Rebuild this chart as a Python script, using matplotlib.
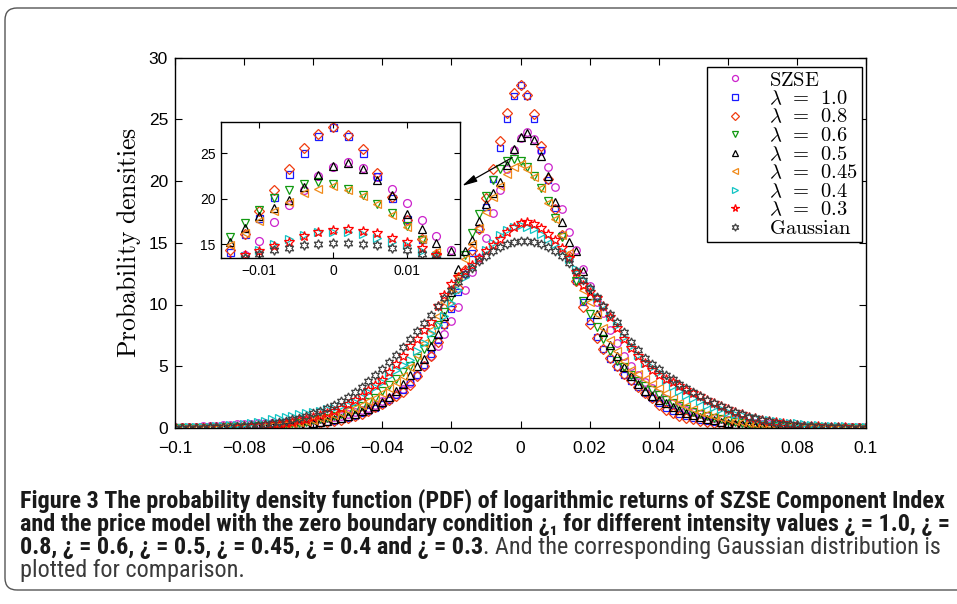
import matplotlib
matplotlib.use('Agg')
import matplotlib.pyplot as plt
from matplotlib import font_manager as fm
from matplotlib.patches import FancyBboxPatch
from matplotlib.transforms import IdentityTransform

plt.rcParams['mathtext.fontset'] = 'cm'
plt.rcParams['axes.unicode_minus'] = True

# ---------------- data (bin centres in per-mille of log-return) ----------------
returns_permille = [-100, -98, -96, -94, -92, -90, -88, -86, -84, -82,
                    -80, -78, -76, -74, -72, -70, -68, -66, -64, -62,
                    -60, -58, -56, -54, -52, -50, -48, -46, -44, -42,
                    -40, -38, -36, -34, -32, -30, -28, -26, -24, -22,
                    -20, -18, -16, -14, -12, -10, -8, -6, -4, -2,
                    0,
                    2, 4, 6, 8, 10, 12, 14, 16, 18, 20,
                    22, 24, 26, 28, 30, 32, 34, 36, 38, 40,
                    42, 44, 46, 48, 50, 52, 54, 56, 58, 60,
                    62, 64, 66, 68, 70, 72, 74, 76, 78, 80,
                    82, 84, 86, 88, 90, 92, 94, 96, 98, 100]

szse = [0.07, 0.08, 0.1, 0.12, 0.14, 0.17, 0.2, 0.24, 0.27, 0.3,
        0.34, 0.36, 0.38, 0.4, 0.42, 0.44, 0.47, 0.5, 0.55, 0.6,
        0.65, 0.72, 0.8, 0.9, 1.0, 1.12, 1.28, 1.45, 1.65, 1.9,
        2.15, 2.45, 2.75, 3.15, 3.65, 4.3, 5.0, 5.8, 6.6, 7.6,
        8.7, 9.8, 11.2, 12.6, 13.8, 15.4, 17.4, 19.3, 21.0, 22.5,
        23.5,
        24.0, 23.4, 22.4, 21.1, 19.5, 17.7, 15.9, 14.4, 12.9, 11.5,
        10.2, 9.3, 7.9, 6.9, 5.8, 5.0, 4.3, 3.7, 3.2, 2.75,
        2.35, 2.0, 1.72, 1.48, 1.28, 1.1, 0.95, 0.82, 0.72, 0.63,
        0.55, 0.48, 0.42, 0.37, 0.33, 0.29, 0.26, 0.23, 0.2, 0.18,
        0.16, 0.14, 0.12, 0.11, 0.1, 0.09, 0.08, 0.07, 0.06, 0.05]

lam_10 = [0.005, 0.005, 0.005, 0.01, 0.01, 0.01, 0.015, 0.02, 0.02, 0.025,
          0.035, 0.045, 0.055, 0.07, 0.09, 0.11, 0.14, 0.18, 0.22, 0.27,
          0.33, 0.4, 0.48, 0.58, 0.7, 0.85, 1.0, 1.2, 1.4, 1.65,
          1.95, 2.25, 2.65, 3.1, 3.7, 4.3, 5.1, 6.0, 7.1, 8.3,
          9.6, 11.0, 12.5, 14.2, 16.1, 17.9, 20.2, 22.7, 25.0, 26.9,
          27.8,
          26.9, 25.0, 22.5, 20.1, 17.8, 15.6, 13.7, 11.9, 10.2, 8.7,
          7.4, 6.4, 5.6, 4.9, 4.3, 3.8, 3.3, 2.8, 2.4, 2.0,
          1.65, 1.35, 1.1, 0.95, 0.8, 0.65, 0.55, 0.45, 0.37, 0.3,
          0.24, 0.19, 0.15, 0.12, 0.1, 0.08, 0.06, 0.05, 0.04, 0.03,
          0.025, 0.02, 0.015, 0.01, 0.01, 0.01, 0.005, 0.005, 0.005, 0.005]

lam_08 = [0.005, 0.005, 0.005, 0.005, 0.01, 0.01, 0.01, 0.015, 0.02, 0.02,
          0.03, 0.04, 0.05, 0.06, 0.08, 0.1, 0.13, 0.16, 0.2, 0.25,
          0.3, 0.37, 0.45, 0.55, 0.65, 0.8, 0.95, 1.15, 1.35, 1.7,
          1.95, 2.25, 2.6, 2.95, 3.5, 4.2, 5.0, 5.8, 7.0, 8.4,
          9.9, 11.3, 12.8, 14.4, 16.1, 18.6, 21.0, 23.2, 25.5, 27.1,
          27.8,
          27.0, 25.4, 22.8, 20.2, 17.7, 15.6, 13.9, 11.9, 9.8, 8.4,
          7.3, 6.4, 5.7, 5.0, 4.4, 3.85, 3.35, 2.85, 2.4, 1.9,
          1.45, 1.2, 1.0, 0.85, 0.7, 0.6, 0.5, 0.42, 0.35, 0.28,
          0.22, 0.18, 0.14, 0.11, 0.09, 0.07, 0.055, 0.045, 0.035, 0.03,
          0.02, 0.02, 0.015, 0.01, 0.01, 0.01, 0.005, 0.005, 0.005, 0.005]

lam_06 = [0.01, 0.01, 0.015, 0.02, 0.025, 0.03, 0.04, 0.05, 0.06, 0.07,
          0.09, 0.11, 0.14, 0.17, 0.21, 0.26, 0.31, 0.37, 0.44, 0.52,
          0.62, 0.72, 0.85, 1.0, 1.15, 1.35, 1.55, 1.8, 2.1, 2.4,
          3.0, 3.5, 4.0, 4.5, 5.0, 5.7, 6.4, 7.1, 8.3, 9.4,
          10.6, 12.1, 14.0, 15.8, 17.3, 18.8, 20.1, 21.0, 21.6, 21.8,
          21.6,
          21.1, 20.4, 19.4, 18.4, 17.0, 15.5, 13.7, 11.9, 10.3, 9.2,
          8.2, 7.2, 6.2, 5.4, 4.9, 4.3, 3.8, 3.4, 3.1, 2.7,
          2.3, 2.0, 1.75, 1.5, 1.3, 1.1, 0.95, 0.82, 0.7, 0.6,
          0.5, 0.42, 0.35, 0.3, 0.25, 0.2, 0.16, 0.13, 0.11, 0.09,
          0.07, 0.06, 0.05, 0.04, 0.03, 0.025, 0.02, 0.015, 0.01, 0.01]

lam_05 = [0.005, 0.005, 0.01, 0.01, 0.01, 0.015, 0.02, 0.025, 0.03, 0.04,
          0.05, 0.06, 0.08, 0.1, 0.13, 0.16, 0.2, 0.24, 0.29, 0.35,
          0.42, 0.5, 0.6, 0.72, 0.85, 1.0, 1.15, 1.35, 1.55, 1.8,
          2.1, 2.5, 3.0, 3.6, 4.3, 5.0, 5.6, 6.6, 7.6, 9.1,
          11.0, 12.9, 14.3, 15.2, 16.8, 18.1, 19.0, 19.9, 21.3, 22.6,
          23.6,
          23.9, 23.3, 22.0, 20.4, 18.3, 16.7, 15.1, 14.3, 12.7, 10.8,
          9.2, 7.8, 6.7, 5.8, 4.9, 4.2, 3.6, 3.0, 2.6, 2.3,
          2.0, 1.7, 1.45, 1.25, 1.05, 0.9, 0.75, 0.62, 0.52, 0.43,
          0.36, 0.3, 0.25, 0.2, 0.16, 0.13, 0.1, 0.08, 0.06, 0.05,
          0.04, 0.03, 0.025, 0.02, 0.015, 0.01, 0.01, 0.01, 0.005, 0.005]

lam_045 = [0.01, 0.01, 0.015, 0.02, 0.025, 0.03, 0.04, 0.05, 0.065, 0.08,
           0.1, 0.12, 0.15, 0.19, 0.23, 0.28, 0.34, 0.41, 0.49, 0.58,
           0.68, 0.8, 0.93, 1.08, 1.25, 1.45, 1.65, 1.9, 2.15, 2.45,
           2.8, 3.2, 3.7, 4.2, 4.9, 5.9, 6.9, 7.9, 9.1, 10.2,
           11.3, 12.4, 13.7, 14.9, 16.2, 17.5, 18.7, 19.6, 20.6, 21.1,
           21.4,
           21.0, 20.3, 19.4, 18.2, 16.9, 15.6, 14.2, 12.6, 11.2, 10.2,
           9.2, 8.1, 7.1, 6.2, 5.4, 4.7, 4.35, 4.0, 3.6, 3.2,
           2.8, 2.4, 2.05, 1.75, 1.5, 1.3, 1.1, 0.95, 0.82, 0.7,
           0.6, 0.5, 0.42, 0.35, 0.29, 0.24, 0.2, 0.16, 0.13, 0.11,
           0.09, 0.07, 0.06, 0.05, 0.04, 0.03, 0.025, 0.02, 0.015, 0.01]

lam_04 = [0.03, 0.04, 0.05, 0.07, 0.09, 0.11, 0.14, 0.18, 0.22, 0.28,
          0.35, 0.42, 0.5, 0.6, 0.7, 0.8, 0.9, 1.0, 1.12, 1.22,
          1.33, 1.4, 1.5, 1.6, 1.75, 1.9, 2.1, 2.5, 2.9, 3.3,
          3.7, 4.2, 4.7, 5.1, 5.5, 6.2, 6.9, 7.7, 8.3, 9.1,
          10.1, 11.2, 12.2, 13.0, 13.7, 14.4, 15.0, 15.6, 16.0, 16.3,
          16.4,
          16.3, 16.1, 15.7, 15.3, 14.9, 14.3, 13.7, 12.9, 12.0, 11.3,
          10.6, 10.0, 9.1, 8.3, 7.4, 6.6, 5.9, 5.3, 4.9, 4.5,
          3.9, 3.4, 3.0, 2.7, 2.4, 2.15, 1.9, 1.7, 1.5, 1.32,
          1.16, 1.02, 0.9, 0.8, 0.7, 0.62, 0.55, 0.48, 0.42, 0.37,
          0.32, 0.28, 0.24, 0.2, 0.17, 0.15, 0.13, 0.11, 0.1, 0.09]

lam_03 = [0.015, 0.02, 0.025, 0.03, 0.04, 0.05, 0.06, 0.075, 0.09, 0.11,
          0.14, 0.17, 0.2, 0.25, 0.3, 0.36, 0.43, 0.52, 0.62, 0.73,
          0.87, 1.02, 1.2, 1.4, 1.65, 1.95, 2.3, 2.6, 3.05, 3.5,
          3.9, 4.5, 5.2, 5.8, 6.6, 7.2, 7.9, 8.6, 9.9, 10.8,
          11.7, 12.2, 12.7, 13.2, 13.8, 14.3, 14.8, 15.3, 15.9, 16.3,
          16.6,
          16.7, 16.5, 16.2, 15.7, 15.2, 14.6, 13.8, 12.6, 11.6, 11.0,
          10.5, 9.9, 9.0, 8.1, 7.2, 6.5, 5.8, 5.3, 4.7, 4.3,
          4.0, 3.7, 3.4, 3.1, 2.85, 2.6, 2.3, 2.0, 1.75, 1.5,
          1.28, 1.1, 0.92, 0.78, 0.65, 0.54, 0.45, 0.37, 0.3, 0.25,
          0.2, 0.16, 0.13, 0.1, 0.08, 0.065, 0.05, 0.04, 0.03, 0.025]

gaussian = [0.014, 0.018, 0.024, 0.031, 0.04, 0.052, 0.066, 0.084, 0.107, 0.134,
            0.168, 0.209, 0.259, 0.32, 0.391, 0.477, 0.578, 0.698, 0.836, 0.996,
            1.18, 1.39, 1.63, 1.9, 2.2, 2.54, 2.92, 3.33, 3.78, 4.26,
            4.78, 5.34, 5.92, 6.54, 7.18, 7.84, 8.51, 9.19, 9.86, 10.53,
            11.19, 11.82, 12.43, 12.99, 13.49, 13.94, 14.33, 14.65, 14.89, 15.06,
            15.14,
            15.14, 15.06, 14.89, 14.65, 14.33, 13.94, 13.4, 12.7, 12.0, 11.3,
            10.6, 9.9, 9.2, 8.6, 7.8, 7.0, 6.3, 5.7, 5.2, 4.75,
            4.3, 3.95, 3.6, 3.2, 2.9, 2.6, 2.3, 2.0, 1.75, 1.5,
            1.3, 1.1, 0.93, 0.78, 0.65, 0.54, 0.44, 0.36, 0.29, 0.23,
            0.18, 0.14, 0.11, 0.09, 0.07, 0.05, 0.04, 0.03, 0.025, 0.02]

series_labels = [r'$\mathrm{SZSE}$', r'$\lambda\;\,=\;\,1.0$', r'$\lambda\;\,=\;\,0.8$',
                 r'$\lambda\;\,=\;\,0.6$', r'$\lambda\;\,=\;\,0.5$', r'$\lambda\;\,=\;\,0.45$',
                 r'$\lambda\;\,=\;\,0.4$', r'$\lambda\;\,=\;\,0.3$', r'$\mathrm{Gaussian}$']
series_values = [szse, lam_10, lam_08, lam_06, lam_05, lam_045, lam_04, lam_03, gaussian]

main_xticks = [-0.1, -0.08, -0.06, -0.04, -0.02, 0, 0.02, 0.04, 0.06, 0.08, 0.1]
main_xticklabels = ['\u22120.1', '\u22120.08', '\u22120.06', '\u22120.04', '\u22120.02',
                    '0', '0.02', '0.04', '0.06', '0.08', '0.1']
main_yticks = [0, 5, 10, 15, 20, 25, 30]
inset_xticks = [-0.01, 0, 0.01]
inset_xticklabels = ['\u22120.01', '0', '0.01']
inset_yticks = [15, 20, 25]

# ---------------- styles ----------------
styles = [
    dict(marker='o', color='#cc22cc', ms=5.4),
    dict(marker='s', color='#1a1aff', ms=4.8),
    dict(marker='D', color='#f03c10', ms=4.6),
    dict(marker='v', color='#119911', ms=5.8),
    dict(marker='^', color='#000000', ms=5.8),
    dict(marker='<', color='#f08a1a', ms=5.8),
    dict(marker='>', color='#11c4c4', ms=5.8),
    dict(marker='*', color='#ff0000', ms=7.0),
    dict(marker=(6, 1, 0), color='#404040', ms=6.6),
]

x = [v / 1000.0 for v in returns_permille]
for vals in series_values:
    assert len(vals) == len(x)

W, H = 957, 604
fig = plt.figure(figsize=(W / 100, H / 100), dpi=100)
fig.patch.set_facecolor('white')

tick_font = 'Liberation Sans'

ax = fig.add_axes([175 / W, 1 - 428 / H, 691 / W, 370.5 / H])
for lab, vals, st in zip(series_labels, series_values, styles):
    ax.plot(x, vals, linestyle='none', marker=st['marker'], ms=st['ms'],
            mfc='none', mec=st['color'], mew=0.9, label=lab)
ax.set_xlim(-0.1, 0.1)
ax.set_ylim(0, 30)
ax.set_xticks(main_xticks)
ax.set_xticklabels(main_xticklabels, fontfamily=tick_font, fontsize=12.5)
ax.set_yticks(main_yticks)
ax.set_yticklabels([str(t) for t in main_yticks], fontfamily=tick_font, fontsize=12.5)
ax.tick_params(direction='in', top=True, right=True, length=5, width=0.8)
ax.tick_params(axis='x', pad=9.5)
ax.tick_params(axis='y', pad=5)
for sp in ax.spines.values():
    sp.set_linewidth(1.0)
ax.set_ylabel(r'$\mathrm{Probability\ densities}$', fontsize=18.5)
ax.yaxis.set_label_coords((143 - 175) / 691, 0.5)

leg_prop = fm.FontProperties(family='cmr10', size=14.8)
leg = ax.legend(loc='upper right', bbox_to_anchor=(0.994, 0.974), frameon=True,
                fancybox=False, edgecolor='k', framealpha=1, prop=leg_prop,
                labelspacing=0.0, handlelength=2.3, handletextpad=0.5,
                borderpad=0.2, borderaxespad=0, numpoints=1, markerscale=0.8)
leg.get_frame().set_linewidth(1.0)

ax.annotate('', xy=(-0.0169, 19.6), xytext=(-0.0024, 21.9),
            arrowprops=dict(arrowstyle='-|>,head_length=0.9,head_width=0.22',
                            color='k', lw=0.9, shrinkA=0, shrinkB=0), zorder=5)

# inset
axi = fig.add_axes([221 / W, 1 - 258 / H, 239 / W, 136 / H])
for lab, vals, st in zip(series_labels, series_values, styles):
    axi.plot(x, vals, linestyle='none', marker=st['marker'], ms=st['ms'] * 1.05,
             mfc='none', mec=st['color'], mew=0.9)
axi.set_xlim(-0.0152, 0.0172)
axi.set_ylim(13.5, 28.4)
axi.set_xticks(inset_xticks)
axi.set_xticklabels(inset_xticklabels, fontfamily=tick_font, fontsize=10)
axi.set_yticks(inset_yticks)
axi.set_yticklabels([str(t) for t in inset_yticks], fontfamily=tick_font, fontsize=10)
axi.tick_params(direction='in', top=True, right=True, length=4, width=0.8, pad=4)
for sp in axi.spines.values():
    sp.set_linewidth(1.0)

# outer rounded frame
frame = FancyBboxPatch((5, 604 - 590), 1000, 582,
                       boxstyle='round,pad=0,rounding_size=12',
                       transform=IdentityTransform(), fill=False,
                       ec='#555555', lw=1.0)
fig.add_artist(frame)


def pick_font(cands):
    for c in cands:
        try:
            fm.findfont(fm.FontProperties(family=c), fallback_to_default=False)
            return c
        except Exception:
            pass
    return 'DejaVu Sans'


cap_font = pick_font(['Liberation Sans Narrow', 'Roboto Condensed', 'Liberation Sans'])
fams = [cap_font, 'DejaVu Sans']

cap_lines = [
    ("Figure 3 The probability density function (PDF) of logarithmic returns of SZSE Component Index", 'bold'),
    ("and the price model with the zero boundary condition \u00bf\u2081 for different intensity values \u00bf = 1.0, \u00bf =", 'bold'),
    ("0.8, \u00bf = 0.6, \u00bf = 0.5, \u00bf = 0.45, \u00bf = 0.4 and \u00bf = 0.3", 'bold'),
    ("plotted for comparison.", 'normal'),
]
cap_tail = ". And the corresponding Gaussian distribution is"
baselines = [508, 531, 554, 577]

texts = []
for (s, w), b in zip(cap_lines, baselines):
    t = fig.text(20 / W, 1 - b / H, s, fontsize=11, fontweight=w, family=fams,
                 color='#1a1a1a' if w == 'bold' else '#3a3a3a', va='baseline', ha='left')
    texts.append(t)
t_tail = fig.text(0.5, 1 - baselines[2] / H, cap_tail, fontsize=11, fontweight='normal',
                  family=fams, color='#3a3a3a', va='baseline', ha='left')

size = 11.0
for _ in range(3):
    for t in texts + [t_tail]:
        t.set_fontsize(size)
    fig.canvas.draw()
    r = fig.canvas.get_renderer()
    wmax = max(texts[0].get_window_extent(r).width, texts[1].get_window_extent(r).width)
    size = size * 930 / wmax
for t in texts + [t_tail]:
    t.set_fontsize(size)
fig.canvas.draw()
r = fig.canvas.get_renderer()
bb = texts[2].get_window_extent(r)
t_tail.set_x(bb.x1 / W)

fig.savefig('out.png', dpi=100)
